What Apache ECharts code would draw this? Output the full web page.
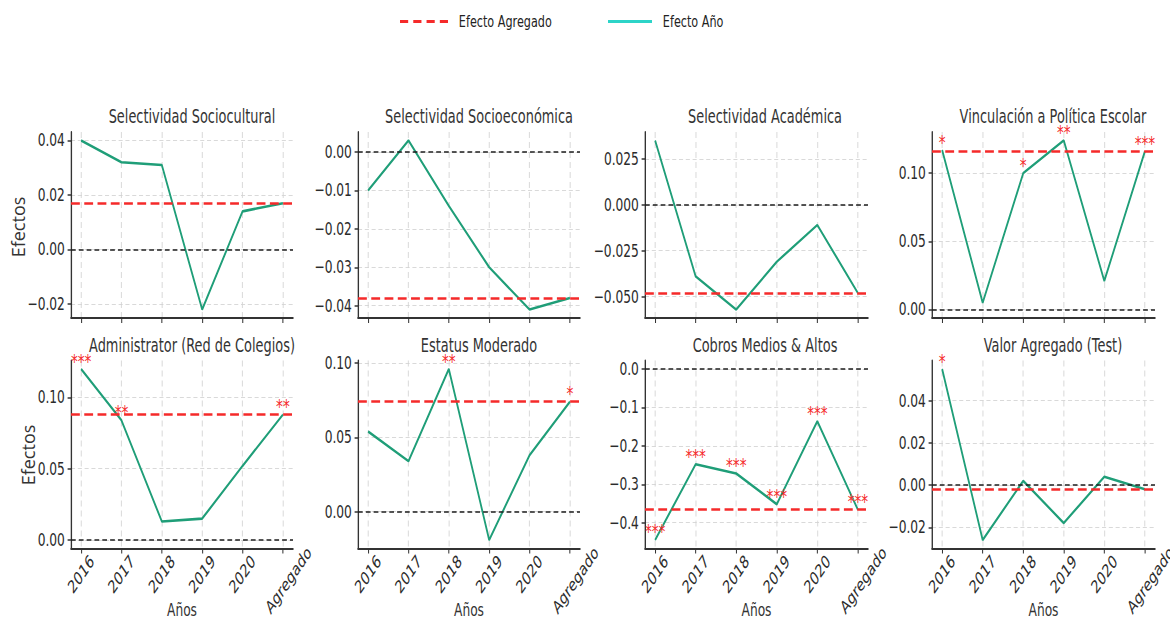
<!DOCTYPE html>
<html>
<head>
<meta charset="utf-8">
<title>Efectos por año</title>
<script src="https://cdn.jsdelivr.net/npm/echarts@6/dist/echarts.min.js"></script>
<style>
  html, body { margin: 0; padding: 0; overflow: hidden; background: #ffffff; }
  #frame { width: 1170px; height: 621px; overflow: hidden; position: relative; }
  /* the figure is laid out wide and squeezed horizontally */
  #chart { width: 1721px; height: 621px; transform: scaleX(0.68); transform-origin: 0 0; }
</style>
</head>
<body>
<div id="frame"><div id="chart"></div></div>
<script>
// ---------- data ----------
const categories = ['2016', '2017', '2018', '2019', '2020', 'Agregado'];

const panelTitles = [
  'Selectividad Sociocultural', 'Selectividad Socioeconómica', 'Selectividad Académica', 'Vinculación a Política Escolar',
  'Administrator (Red de Colegios)', 'Estatus Moderado', 'Cobros Medios & Altos', 'Valor Agregado (Test)'
];

const selSociocultural  = [0.040, 0.032, 0.031, -0.022, 0.014, 0.017];
const selSocioeconomica = [-0.010, 0.003, -0.014, -0.030, -0.041, -0.038];
const selAcademica      = [0.035, -0.039, -0.057, -0.031, -0.011, -0.048];
const vinculacion       = [0.117, 0.005, 0.100, 0.124, 0.021, 0.116];
const administrador     = [0.120, 0.084, 0.013, 0.015, 0.052, 0.088];
const estatusModerado   = [0.054, 0.034, 0.096, -0.019, 0.038, 0.074];
const cobrosMediosAltos = [-0.445, -0.248, -0.272, -0.352, -0.136, -0.366];
const valorAgregado     = [0.055, -0.026, 0.002, -0.018, 0.004, -0.002];

// aggregated effect of each panel (red dashed line)
const aggregateEffects = [0.017, -0.038, -0.048, 0.116, 0.088, 0.074, -0.366, -0.002];

// significance stars per point
const starsSociocultural  = ['', '', '', '', '', ''];
const starsSocioeconomica = ['', '', '', '', '', ''];
const starsAcademica      = ['', '', '', '', '', ''];
const starsVinculacion    = ['*', '', '*', '**', '', '***'];
const starsAdministrador  = ['***', '**', '', '', '', '**'];
const starsEstatus        = ['', '', '**', '', '', '*'];
const starsCobros         = ['***', '***', '***', '***', '***', '***'];
const starsValorAgregado  = ['*', '', '', '', '', ''];

// y tick values and their decimals
const ticksSociocultural  = [-0.02, 0, 0.02, 0.04];
const ticksSocioeconomica = [-0.04, -0.03, -0.02, -0.01, 0];
const ticksAcademica      = [-0.05, -0.025, 0, 0.025];
const ticksVinculacion    = [0, 0.05, 0.10];
const ticksAdministrador  = [0, 0.05, 0.10];
const ticksEstatus        = [0, 0.05, 0.10];
const ticksCobros         = [-0.4, -0.3, -0.2, -0.1, 0];
const ticksValorAgregado  = [-0.02, 0, 0.02, 0.04];
const tickDecimals = [2, 2, 3, 2, 2, 2, 1, 2];

const panelValues = [selSociocultural, selSocioeconomica, selAcademica, vinculacion,
                     administrador, estatusModerado, cobrosMediosAltos, valorAgregado];
const panelStars = [starsSociocultural, starsSocioeconomica, starsAcademica, starsVinculacion,
                    starsAdministrador, starsEstatus, starsCobros, starsValorAgregado];
const panelTicks = [ticksSociocultural, ticksSocioeconomica, ticksAcademica, ticksVinculacion,
                    ticksAdministrador, ticksEstatus, ticksCobros, ticksValorAgregado];

// ---------- layout ----------
const S = 0.68;                 // horizontal squeeze of the page
const X = v => v / S;           // screen x -> chart x
const colEdges = [[71, 293], [358, 580], [645, 868], [932, 1155]];
const rowEdges = [[132, 318], [360.5, 548.5]];
const titleCenters = [192, 479, 765, 1053];
const titleMiddles = [116.5, 345.8];

const FONT = '"DejaVu Sans", "Liberation Sans", sans-serif';
const GREEN = '#1f9e78';
const RED = '#f52a2a';
const INK = '#2b2b2b';

const fmt = (v, d) => (v < -1e-12 ? '\u2212' : '') + Math.abs(v).toFixed(d);
const catIdx = categories.map((_, j) => j);

const grids = [], xAxes = [], yAxes = [], series = [], graphics = [];

panelValues.forEach((vals, i) => {
  const r = Math.floor(i / 4), c = i % 4;
  const [L, R] = colEdges[c], [T, B] = rowEdges[r];
  grids.push({ left: X(L), top: T, width: X(R - L), height: B - T, containLabel: false, outerBoundsMode: 'none' });

  const lo = Math.min(0, aggregateEffects[i], ...vals);
  const hi = Math.max(0, aggregateEffects[i], ...vals);
  const pad = (hi - lo) * 0.05;

  xAxes.push({
    gridIndex: i, type: 'value', min: -0.25, max: categories.length - 0.75,
    axisLine: { show: true, onZero: false, lineStyle: { color: '#333', width: 2 } },
    axisTick: { show: true, customValues: catIdx, length: 5, lineStyle: { color: '#333', width: 1.5 } },
    axisLabel: {
      show: r === 1, customValues: catIdx, rotate: 45, align: 'center', verticalAlign: 'middle',
      margin: 26, fontSize: 18, color: INK, fontFamily: FONT,
      formatter: v => {
        const k = Math.round(v);
        return k === categories.length - 1 ? '{agg|' + categories[k] + '}' : categories[k];
      },
      rich: { agg: { fontSize: 18, color: INK, fontFamily: FONT, padding: [20, 0, 0, 4] } }
    },
    splitLine: { show: true, lineStyle: { color: '#d2d2d2', type: [6, 4], width: 1 } },
    name: r === 1 ? 'Años' : '', nameLocation: 'middle', nameGap: 53, nameMoveOverlap: false,
    nameTextStyle: { fontSize: 18, color: '#333', fontFamily: FONT }
  });

  yAxes.push({
    gridIndex: i, type: 'value', min: lo - pad, max: hi + pad,
    axisLine: { show: true, onZero: false, lineStyle: { color: '#333', width: 2 } },
    axisTick: { show: true, customValues: panelTicks[i], length: 5, lineStyle: { color: '#333', width: 1.5 } },
    axisLabel: {
      customValues: panelTicks[i], margin: 9, fontSize: 18, color: INK, fontFamily: FONT,
      formatter: v => fmt(v, tickDecimals[i])
    },
    splitLine: { show: true, lineStyle: { color: '#d2d2d2', type: [6, 4], width: 1 } }
  });

  series.push({
    name: 'Efecto Año', type: 'line', xAxisIndex: i, yAxisIndex: i,
    data: vals.map((v, j) => [j, v]),
    symbol: 'circle', symbolSize: 1, showSymbol: true,
    itemStyle: { color: 'rgba(0,0,0,0)' },
    lineStyle: { color: GREEN, width: 2.6 },
    label: {
      show: true, position: 'top', distance: -2, color: RED, fontSize: 20, fontFamily: FONT,
      formatter: p => panelStars[i][p.dataIndex]
    },
    labelLayout: { hideOverlap: false },
    emphasis: { disabled: true }, silent: true, z: 3
  });

  series.push({
    name: 'Efecto Agregado', type: 'line', xAxisIndex: i, yAxisIndex: i, data: [],
    itemStyle: { color: RED }, lineStyle: { color: RED, type: [13, 6.5], width: 2.6 },
    markLine: {
      symbol: 'none', silent: true, animation: false, precision: 6, label: { show: false },
      emphasis: { disabled: true },
      data: [
        { yAxis: 0, lineStyle: { color: '#1e1e1e', type: [7, 4.5], width: 1.6 } },
        { yAxis: aggregateEffects[i], lineStyle: { color: RED, type: [13, 6.5], width: 2.6 } }
      ]
    },
    z: 4
  });

  graphics.push({
    type: 'text', x: X(titleCenters[c]), y: titleMiddles[r], silent: true,
    style: { text: panelTitles[i], fontSize: 19, fontFamily: FONT, fill: '#333',
             align: 'center', verticalAlign: 'middle', textAlign: 'center', textVerticalAlign: 'middle' }
  });
});

// y axis titles of the first column
[[18, 227], [28, 455]].forEach(([x, y]) => {
  graphics.push({
    type: 'text', x: X(x), y: y, rotation: Math.PI / 2, scaleY: 1 / S, silent: true,
    style: { text: 'Efectos', fontSize: 18, fontFamily: '"Open Sans", "DejaVu Sans", sans-serif', fill: '#333',
             align: 'center', verticalAlign: 'middle', textAlign: 'center', textVerticalAlign: 'middle' }
  });
});

const legendText = { fontSize: 16.5, color: '#222', fontFamily: FONT, padding: [0, 0, 0, 11] };

const option = {
  animation: false,
  backgroundColor: '#ffffff',
  textStyle: { fontFamily: FONT },
  legend: [
    {
      data: [{ name: 'Efecto Agregado',
               icon: 'path://M0,0h8v1h-8zM13,0h8v1h-8zM26,0h8v1h-8zM39,0h8v1h-8z',
               itemStyle: { color: RED } }],
      left: X(400), top: 13, padding: 0, itemWidth: X(48), itemHeight: 3,
      symbolKeepAspect: false, selectedMode: false, textStyle: legendText
    },
    {
      data: [{ name: 'Efecto Año', icon: 'rect', itemStyle: { color: '#2dd4c8' } }],
      left: X(608), top: 13, padding: 0, itemWidth: X(44), itemHeight: 3,
      symbolKeepAspect: false, selectedMode: false, textStyle: legendText
    }
  ],
  grid: grids,
  xAxis: xAxes,
  yAxis: yAxes,
  series: series,
  graphic: graphics
};

const chart = echarts.init(document.getElementById('chart'), null, { renderer: 'svg', width: 1721, height: 621 });
chart.setOption(option);
</script>
</body>
</html>
